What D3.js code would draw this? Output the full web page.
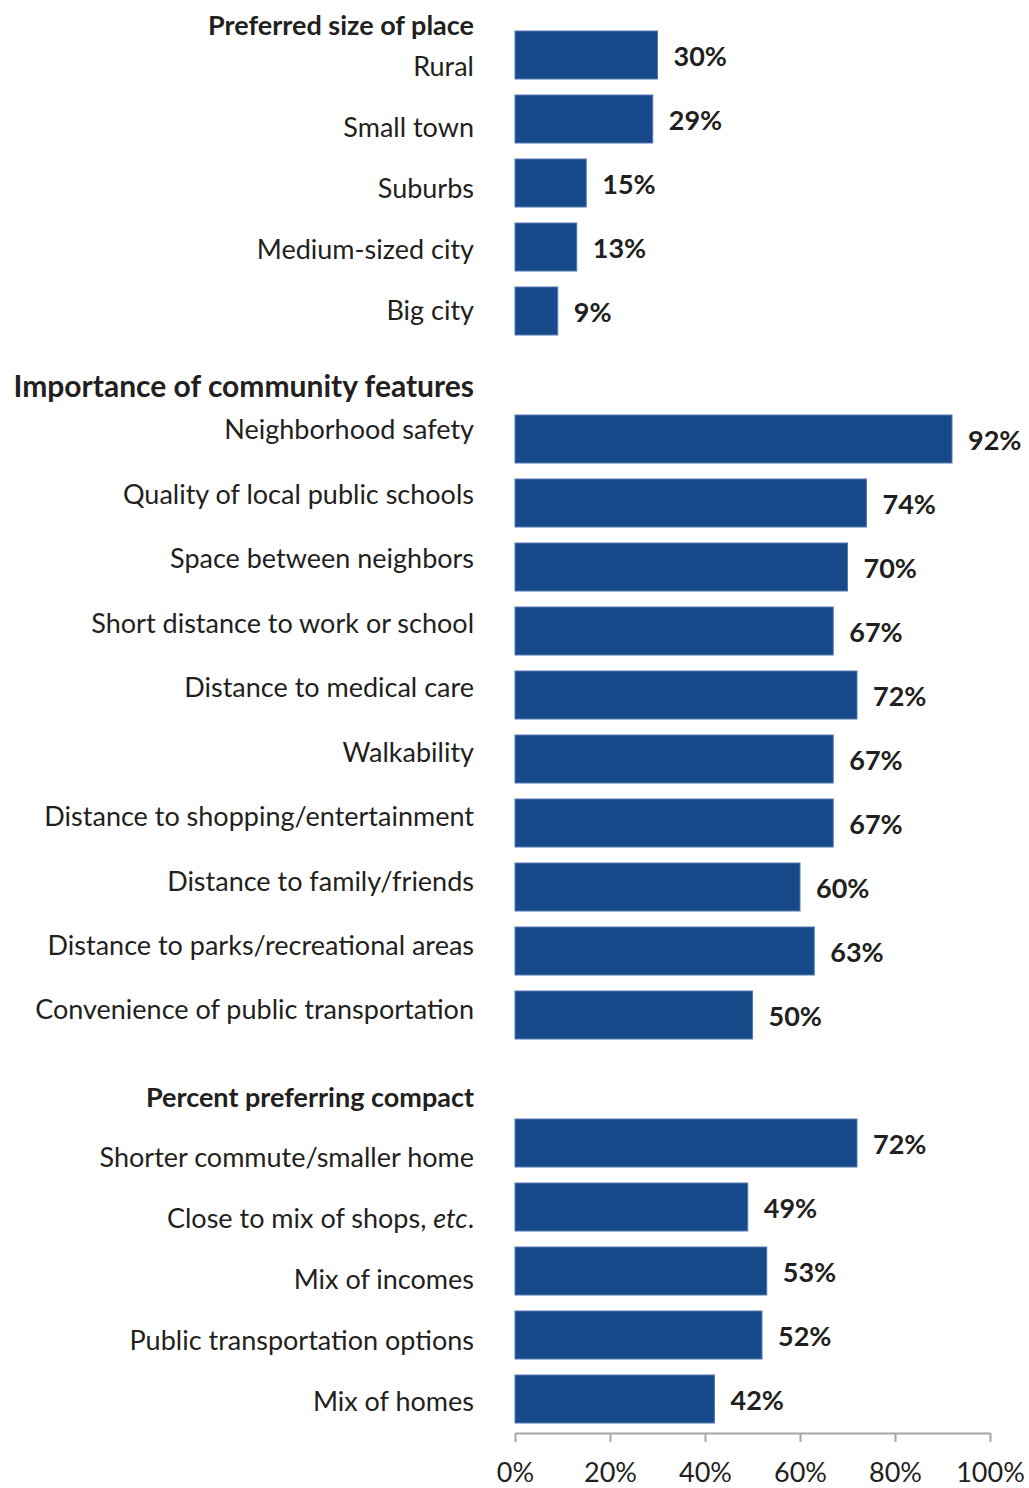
<!DOCTYPE html>
<html>
<head>
<meta charset="utf-8">
<script src="https://cdn.jsdelivr.net/npm/d3@7"></script>
<style>
  body { margin: 0; background: #fff; }
  text { font-family: Lato, sans-serif; fill: #231f20; }
</style>
</head>
<body>
<script>
var sizeLabels = ["Rural", "Small town", "Suburbs", "Medium-sized city", "Big city"];
var sizeValues = [30, 29, 15, 13, 9];

var featureLabels = ["Neighborhood safety", "Quality of local public schools", "Space between neighbors",
  "Short distance to work or school", "Distance to medical care", "Walkability",
  "Distance to shopping/entertainment", "Distance to family/friends",
  "Distance to parks/recreational areas", "Convenience of public transportation"];
var featureValues = [92, 74, 70, 67, 72, 67, 67, 60, 63, 50];

var compactLabels = ["Shorter commute/smaller home", "Close to mix of shops, etc.", "Mix of incomes",
  "Public transportation options", "Mix of homes"];
var compactValues = [72, 49, 53, 52, 42];

var groupTitles = ["Preferred size of place", "Importance of community features", "Percent preferring compact"];
var xTicks = [0, 20, 40, 60, 80, 100];

var svgWidth = 1029, svgHeight = 1488;
var svg = d3.select("body").append("svg").attr("width", svgWidth).attr("height", svgHeight);

// one slot per row, header rows included, so bars keep a steady rhythm
var rows = [];
sizeLabels.forEach((l, i) => rows.push({ key: "s" + i, label: l, value: sizeValues[i] }));
rows.push({ key: "gap1" });
featureLabels.forEach((l, i) => rows.push({ key: "f" + i, label: l, value: featureValues[i] }));
rows.push({ key: "gap2" });
compactLabels.forEach((l, i) => rows.push({ key: "c" + i, label: l, value: compactValues[i] }));

var x = d3.scaleLinear().domain([0, 100]).range([515, 990]);
var y = d3.scaleBand().domain(rows.map(r => r.key)).range([23, 23 + rows.length * 64])
  .paddingInner(0.25).paddingOuter(0.125);

var bars = rows.filter(r => r.value !== undefined);

svg.selectAll("rect.bar").data(bars).enter().append("rect")
  .attr("class", "bar")
  .attr("x", x(0))
  .attr("y", d => y(d.key))
  .attr("width", d => x(d.value) - x(0))
  .attr("height", y.bandwidth())
  .attr("fill", "#164a8b")
  .attr("stroke", "#5479ad")
  .attr("stroke-width", 1);

svg.selectAll("text.val").data(bars).enter().append("text")
  .attr("class", "val")
  .attr("x", d => x(d.value) + 16)
  .attr("y", d => y(d.key) + y.bandwidth() / 2)
  .attr("dy", "0.42em")
  .style("font-weight", "bold")
  .style("font-size", "27px")
  .text(d => d.value + "%");

// category labels sit on their own grid, as in the source
var labelGroups = [
  { title: groupTitles[0], titleY: 26, titleSize: 27, labels: sizeLabels, range: [67, 311] },
  { title: groupTitles[1], titleY: 386, titleSize: 30, labels: featureLabels, range: [430, 1010] },
  { title: groupTitles[2], titleY: 1098, titleSize: 27, labels: compactLabels, range: [1158, 1402] }
];

labelGroups.forEach(g => {
  var ly = d3.scalePoint().domain(g.labels).range(g.range);
  svg.append("text")
    .attr("x", 474).attr("y", g.titleY).attr("dy", "0.35em")
    .attr("text-anchor", "end")
    .style("font-weight", "bold").style("font-size", g.titleSize + "px")
    .text(g.title);
  svg.append("g").selectAll("text").data(g.labels).enter().append("text")
    .attr("x", 474).attr("y", d => ly(d)).attr("dy", "0.35em")
    .attr("text-anchor", "end")
    .style("font-size", "27px")
    .each(function (d) {
      var el = d3.select(this);
      if (d.indexOf("etc.") >= 0) {
        el.append("tspan").text("Close to mix of shops, ");
        el.append("tspan").style("font-style", "italic").text("etc");
        el.append("tspan").text(".");
      } else {
        el.text(d);
      }
    });
});

// x axis
var axisG = svg.append("g").attr("transform", "translate(0,1433)")
  .call(d3.axisBottom(x).tickValues(xTicks).tickSize(9).tickSizeOuter(0).tickFormat(d => d + "%"));
axisG.select(".domain").attr("stroke", "#a6a6a6").attr("stroke-width", 2);
axisG.selectAll(".tick line").attr("stroke", "#a6a6a6").attr("stroke-width", 2);
axisG.selectAll(".tick text").attr("y", 40).attr("dy", "0.35em")
  .style("font-size", "27px").attr("fill", "#231f20");
</script>
</body>
</html>
